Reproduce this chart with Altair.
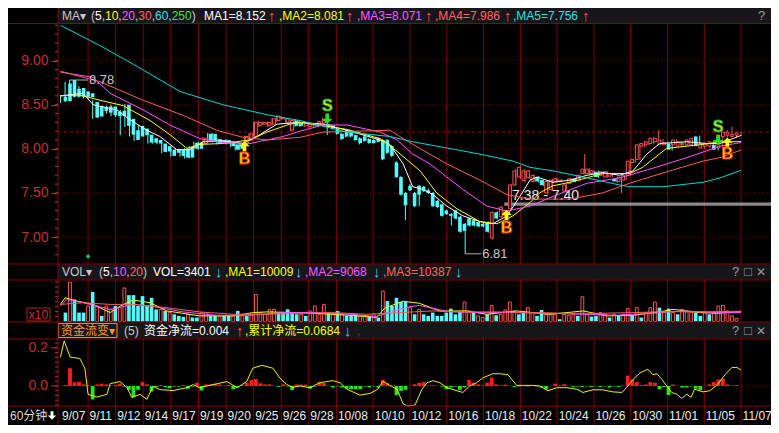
import altair as alt
import pandas as pd

# ---------------- values ----------------
opens = [8.59, 8.74, 8.78, 8.68, 8.69, 8.65, 8.63, 8.53, 8.48, 8.475,
         8.48, 8.48, 8.42, 8.43, 8.50, 8.34, 8.21, 8.26, 8.23, 8.16,
         8.12, 8.10, 8.06, 8.03, 7.99, 7.99, 7.99, 8.00, 8.02, 8.07,
         8.07, 8.06, 8.17, 8.17, 8.11, 8.10, 8.10, 8.08, 8.05, 8.06,
         8.06, 8.10, 8.14, 8.26, 8.28, 8.26, 8.28, 8.32, 8.34, 8.30,
         8.21, 8.32, 8.30, 8.26, 8.25, 8.26, 8.27, 8.29, 8.28, 8.265,
         8.23, 8.17, 8.21, 8.20, 8.155, 8.12, 8.14, 8.11, 8.10, 8.12,
         8.10, 8.10, 8.03, 7.845, 7.68, 7.50, 7.58, 7.50, 7.58, 7.57,
         7.53, 7.50, 7.41, 7.37, 7.30, 7.26, 7.30, 7.23, 7.15, 7.21,
         7.19, 7.17, 7.15, 7.17, 6.99, 7.28, 7.23, 7.24, 7.32, 7.59,
         7.68, 7.64, 7.67, 7.63, 7.68, 7.645, 7.50, 7.535, 7.63, 7.63,
         7.52, 7.61, 7.66, 7.645, 7.72, 7.72, 7.72, 7.74, 7.70, 7.68,
         7.69, 7.66, 7.63, 7.645, 7.70, 7.845, 7.88, 8.03, 8.045, 8.06,
         8.08, 8.045, 8.045, 8.06, 8.045, 8.03, 8.045, 8.045, 8.045, 8.14,
         8.01, 8.03, 8.03, 8.045, 8.01, 8.14, 8.155, 8.14, 8.155]
highs = [8.61, 8.76, 8.78, 8.70, 8.71, 8.66, 8.64, 8.55, 8.49, 8.49,
         8.49, 8.50, 8.43, 8.44, 8.51, 8.35, 8.22, 8.27, 8.24, 8.17,
         8.13, 8.11, 8.07, 8.04, 8.00, 8.00, 8.00, 8.01, 8.03, 8.08,
         8.08, 8.13, 8.18, 8.18, 8.12, 8.11, 8.11, 8.09, 8.06, 8.07,
         8.15, 8.18, 8.31, 8.32, 8.31, 8.31, 8.35, 8.38, 8.37, 8.35,
         8.33, 8.33, 8.31, 8.31, 8.29, 8.29, 8.32, 8.355, 8.29, 8.27,
         8.24, 8.18, 8.22, 8.21, 8.16, 8.13, 8.15, 8.12, 8.11, 8.13,
         8.11, 8.11, 8.04, 7.86, 7.69, 7.51, 7.60, 7.51, 7.59, 7.58,
         7.55, 7.51, 7.42, 7.38, 7.31, 7.27, 7.31, 7.24, 7.16, 7.22,
         7.20, 7.18, 7.16, 7.18, 7.29, 7.29, 7.35, 7.31, 7.60, 7.77,
         7.81, 7.77, 7.76, 7.71, 7.69, 7.65, 7.64, 7.66, 7.67, 7.66,
         7.60, 7.67, 7.67, 7.71, 7.94, 7.78, 7.76, 7.75, 7.75, 7.75,
         7.73, 7.67, 7.69, 7.71, 7.87, 7.89, 8.06, 8.07, 8.09, 8.13,
         8.21, 8.11, 8.08, 8.07, 8.11, 8.09, 8.07, 8.11, 8.14, 8.15,
         8.07, 8.07, 8.09, 8.06, 8.16, 8.21, 8.25, 8.18, 8.19]
lows = [8.52, 8.53, 8.57, 8.58, 8.58, 8.57, 8.57, 8.34, 8.35, 8.42,
        8.40, 8.37, 8.36, 8.155, 8.25, 8.14, 8.09, 8.12, 8.14, 8.06,
        8.06, 8.05, 7.95, 7.96, 7.91, 7.94, 7.91, 7.89, 7.89, 7.99,
        7.99, 8.05, 8.09, 8.07, 8.05, 8.06, 8.05, 8.02, 7.98, 7.99,
        8.05, 8.09, 8.13, 8.25, 8.27, 8.25, 8.27, 8.31, 8.33, 8.29,
        8.20, 8.25, 8.25, 8.25, 8.24, 8.25, 8.26, 8.28, 8.155, 8.22,
        8.16, 8.10, 8.13, 8.13, 8.09, 8.05, 8.08, 8.06, 8.06, 8.07,
        7.87, 7.94, 7.91, 7.67, 7.47, 7.19, 7.52, 7.34, 7.35, 7.51,
        7.49, 7.34, 7.33, 7.23, 7.25, 7.13, 7.20, 7.05, 6.81, 7.12,
        7.12, 7.11, 7.11, 7.05, 6.97, 7.20, 7.22, 7.22, 7.30, 7.58,
        7.66, 7.62, 7.66, 7.62, 7.62, 7.58, 7.48, 7.52, 7.62, 7.62,
        7.50, 7.60, 7.62, 7.63, 7.71, 7.71, 7.71, 7.67, 7.69, 7.67,
        7.68, 7.62, 7.50, 7.64, 7.69, 7.84, 7.87, 8.02, 8.04, 8.05,
        8.07, 8.04, 8.04, 7.98, 8.04, 8.02, 8.04, 8.04, 8.04, 8.02,
        8.00, 8.02, 8.02, 7.98, 8.00, 8.13, 8.15, 8.13, 8.15]
closes = [8.54, 8.54, 8.59, 8.59, 8.59, 8.59, 8.585, 8.355, 8.366, 8.43,
          8.41, 8.38, 8.37, 8.37, 8.26, 8.16, 8.10, 8.14, 8.155, 8.07,
          8.07, 8.06, 7.965, 7.97, 7.92, 7.955, 7.92, 7.90, 7.90, 8.00,
          8.00, 8.12, 8.10, 8.08, 8.06, 8.07, 8.06, 8.03, 7.99, 8.00,
          8.14, 8.17, 8.30, 8.30, 8.30, 8.30, 8.34, 8.37, 8.355, 8.34,
          8.32, 8.26, 8.26, 8.30, 8.28, 8.28, 8.31, 8.32, 8.25, 8.23,
          8.17, 8.11, 8.14, 8.14, 8.10, 8.065, 8.09, 8.065, 8.065, 8.08,
          7.88, 7.955, 7.92, 7.68, 7.48, 7.36, 7.53, 7.35, 7.48, 7.52,
          7.50, 7.35, 7.34, 7.24, 7.26, 7.24, 7.21, 7.06, 7.07, 7.13,
          7.13, 7.12, 7.12, 7.06, 7.28, 7.21, 7.34, 7.30, 7.59, 7.75,
          7.79, 7.75, 7.75, 7.70, 7.63, 7.59, 7.63, 7.645, 7.66, 7.645,
          7.59, 7.66, 7.63, 7.70, 7.77, 7.77, 7.75, 7.68, 7.74, 7.74,
          7.72, 7.63, 7.68, 7.70, 7.86, 7.88, 8.045, 8.06, 8.08, 8.12,
          8.12, 8.10, 8.07, 7.99, 8.10, 8.08, 8.06, 8.10, 8.12, 8.03,
          8.06, 8.06, 8.08, 7.99, 8.155, 8.19, 8.19, 8.16, 8.18]
volume_k = [9.0, 39.7, 22.3, 9.0, 9.0, 15.7, 30.0, 15.7, 5.7, 15.7,
            12.3, 15.7, 14.0, 34.0, 26.7, 26.7, 15.7, 25.7, 15.7, 24.0,
            12.3, 12.3, 10.7, 9.0, 7.3, 5.7, 4.7, 7.3, 4.0, 4.0,
            9.0, 9.0, 5.7, 5.7, 5.7, 5.7, 5.7, 5.7, 10.7, 5.7,
            5.7, 7.3, 27.3, 9.0, 7.3, 12.3, 12.3, 9.0, 9.0, 12.3,
            9.0, 7.3, 7.3, 5.7, 10.7, 15.7, 7.3, 17.3, 9.0, 7.3,
            10.7, 7.3, 5.7, 5.7, 7.3, 5.7, 6.3, 5.7, 7.3, 4.0,
            30.7, 20.7, 15.7, 24.0, 19.7, 19.7, 14.0, 7.3, 12.3, 7.3,
            5.7, 9.0, 5.7, 5.7, 9.0, 13.0, 7.3, 9.7, 19.7, 10.7,
            9.0, 5.7, 4.0, 7.3, 16.3, 6.3, 7.3, 11.7, 19.7, 10.7,
            7.3, 9.0, 14.0, 9.0, 5.7, 11.7, 7.3, 8.3, 7.3, 2.3,
            7.3, 6.3, 7.3, 5.7, 25.0, 7.3, 5.0, 5.7, 9.0, 7.3,
            4.0, 7.3, 5.7, 7.3, 13.0, 5.7, 14.0, 4.0, 9.0, 14.0,
            19.7, 14.0, 9.0, 13.0, 9.0, 7.3, 12.3, 9.7, 9.0, 9.0,
            5.7, 9.7, 7.3, 9.0, 15.7, 16.3, 10.7, 5.7, 3.0]
# colour of each volume bar as seen in the picture: 1 = red (hollow), 0 = cyan
volume_red = [0, 1, 0, 0, 0, 1, 0, 1, 0, 1,
              1, 0, 1, 1, 0, 0, 0, 0, 0, 0,
              0, 1, 0, 1, 0, 0, 0, 1, 0, 0,
              1, 1, 0, 0, 1, 0, 0, 1, 0, 1,
              0, 1, 1, 1, 1, 1, 1, 0, 0, 0,
              0, 0, 1, 0, 1, 1, 1, 1, 0, 1,
              0, 1, 0, 0, 0, 1, 1, 0, 1, 0,
              1, 0, 0, 0, 0, 0, 1, 0, 1, 0,
              0, 0, 0, 0, 0, 0, 0, 0, 1, 1,
              0, 1, 1, 0, 1, 0, 1, 1, 1, 1,
              0, 0, 1, 1, 0, 0, 1, 1, 1, 0,
              1, 1, 1, 0, 1, 1, 0, 0, 1, 1,
              0, 1, 0, 1, 1, 0, 1, 0, 1, 1,
              1, 0, 1, 0, 1, 0, 1, 1, 1, 0,
              0, 1, 0, 1, 1, 1, 1, 1, 1]
fund_flow = [0.005, 0.093, 0.019, 0.022, 0.008, 0.003, -0.071, 0.008, 0.012, 0.008,
             0.002, 0.005, 0.012, -0.003, -0.020, -0.059, -0.020, 0.020, 0.008, -0.029,
             -0.005, 0.005, -0.007, -0.012, -0.003, -0.003, 0.005, -0.015, -0.003, 0.017,
             -0.024, 0.008, 0.008, 0.012, 0.008, 0.002, 0.005, -0.017, -0.007, 0.005,
             0.017, 0.031, 0.036, 0.014, 0.008, 0.008, 0.002, -0.005, 0.008, -0.002,
             -0.022, 0.008, 0.007, 0.007, -0.014, -0.003, 0.020, 0.015, 0.002, -0.008,
             -0.002, -0.008, -0.014, -0.017, -0.017, -0.017, -0.003, -0.008, -0.002, -0.008,
             0.031, 0.014, 0.002, -0.048, -0.026, -0.020, 0.001, 0.009, 0.017, 0.020,
             0.002, 0.004, 0.001, -0.003, -0.017, -0.008, -0.003, -0.020, -0.008, 0.031,
             0.017, 0.008, 0.003, 0.017, 0.043, 0.008, 0.003, 0.007, 0.002, -0.005,
             -0.002, 0.001, -0.002, 0.003, -0.002, -0.008, -0.017, 0.001, 0.012, 0.004,
             0.009, 0.001, -0.005, -0.003, -0.005, -0.002, -0.005, -0.002, -0.005, -0.002,
             -0.008, -0.002, -0.005, 0.002, 0.054, 0.034, 0.020, 0.005, 0.008, 0.020,
             0.017, -0.017, -0.005, -0.048, 0.007, 0.001, -0.008, -0.008, -0.002, -0.014,
             -0.022, 0.001, 0.008, 0.020, 0.034, 0.038, 0.008, 0.002, 0.005]

date_labels = ["9/07", "9/11", "9/12", "9/14", "9/17", "9/19", "9/20", "9/25", "9/26", "9/28",
               "10/08", "10/10", "10/12", "10/16", "10/18", "10/22", "10/24", "10/26", "10/30",
               "11/01", "11/05", "11/07"]
date_pos = [0, 6, 12, 18, 24, 30, 36, 42, 48, 54, 60, 68, 76, 84, 92, 100, 108, 116, 124, 132, 140, 148]

# moving averages, (bar index, value) points
ma5_pts = [(0, 8.60), (4.9, 8.63), (7.1, 8.50), (12.3, 8.44), (15.1, 8.33), (18.8, 8.21), (21.6, 8.14),
           (25.3, 7.99), (28.1, 7.99), (31.0, 8.08), (35.3, 8.09), (39.7, 8.06), (42.7, 8.14), (47.1, 8.28),
           (52.1, 8.30), (57.1, 8.28), (62.3, 8.21), (69.5, 8.10), (71.6, 8.05), (74.5, 7.83), (76.6, 7.57),
           (78.8, 7.54), (81.0, 7.48), (84.0, 7.35), (87.5, 7.24), (91.2, 7.175), (94.0, 7.15), (97.1, 7.24),
           (99.9, 7.46), (102.1, 7.645), (103.6, 7.68), (107.1, 7.62), (110.8, 7.645), (114.5, 7.70),
           (117.9, 7.73), (121.6, 7.70), (124.5, 7.75), (127.5, 7.94), (130.3, 8.06), (136.2, 8.08),
           (140.5, 8.06), (143.4, 8.06), (148, 8.152)]
ma10_pts = [(0, 8.60), (4.2, 8.61), (8.6, 8.55), (13.6, 8.49), (19.5, 8.32), (23.8, 8.16), (27.5, 8.005),
            (30.3, 8.05), (35.3, 8.06), (41.2, 8.10), (44.9, 8.19), (49.9, 8.28), (52.1, 8.30), (62.3, 8.22),
            (69.5, 8.115), (73.2, 7.97), (78.2, 7.75), (81.8, 7.50), (86.2, 7.32), (91.2, 7.175), (94.9, 7.15),
            (98.4, 7.24), (102.1, 7.39), (104.2, 7.50), (107.0, 7.58), (110.8, 7.62), (117.9, 7.72),
            (123.8, 7.72), (126.6, 7.79), (131.8, 8.005), (139.7, 8.05), (143.4, 8.08), (148, 8.081)]
ma20_pts = [(0, 8.87), (7.1, 8.81), (10.8, 8.63), (18.0, 8.44), (23.8, 8.27), (30.3, 8.115), (35.3, 8.07),
            (41.2, 8.06), (48.4, 8.14), (52.1, 8.20), (57.1, 8.27), (62.3, 8.27), (69.5, 8.19), (73.2, 8.10),
            (76.6, 7.94), (80.3, 7.83), (87.5, 7.54), (92.7, 7.35), (97.1, 7.295), (102.1, 7.35),
            (107.1, 7.46), (114.5, 7.61), (121.6, 7.67), (128.8, 7.78), (136.2, 7.90), (143.4, 8.03),
            (148, 8.071)]
ma30_pts = [(0, 8.88), (8.6, 8.76), (18.0, 8.55), (26.6, 8.38), (34.0, 8.21), (39.7, 8.13), (44.9, 8.10),
            (52.1, 8.13), (57.1, 8.19), (71.6, 8.21), (76.6, 8.05), (84.0, 7.83), (91.2, 7.645),
            (97.1, 7.48), (102.1, 7.43), (110.8, 7.43), (117.9, 7.50), (123.8, 7.61), (132.5, 7.75),
            (139.7, 7.86), (143.4, 7.90), (148, 7.986)]
ma60_pts = [(0, 9.40), (8.6, 9.17), (15.8, 8.96), (26.0, 8.65), (35.3, 8.50), (45.5, 8.38), (52.1, 8.32),
            (62.3, 8.19), (71.6, 8.14), (76.6, 8.08), (84.0, 8.01), (91.2, 7.94), (98.4, 7.86),
            (102.1, 7.79), (107.1, 7.75), (114.5, 7.67), (121.6, 7.59), (123.8, 7.57), (131.0, 7.57),
            (139.7, 7.62), (143.4, 7.67), (148, 7.756)]

vma5_pts = [(0, 17.3), (1, 24.0), (3.5, 20.7), (7.1, 17.3), (10.8, 9.0), (13, 15.7), (15.8, 21.7),
            (19.5, 19.0), (23.1, 10.7), (30.3, 5.7), (37.6, 5.7), (41.9, 9.0), (44.8, 9.7), (52.1, 9.0),
            (59.3, 7.3), (66.6, 5.0), (68.7, 4.0), (70.5, 13.5), (74.5, 20.5), (78, 18.5), (82.5, 10.5),
            (88.3, 10.7), (92.7, 7.3), (99.2, 10.7), (106.4, 7.3), (113.7, 10.7), (118.7, 5.7),
            (124.5, 6.3), (130.3, 9.7), (133.2, 12.3), (139, 9.0), (142.7, 8.3), (148, 10.0)]
vma10_pts = [(0, 15.7), (1.4, 22.3), (4.9, 19.0), (10.8, 12.3), (15.8, 17.3), (19.5, 15.7), (26.7, 9.7),
             (34, 6.3), (41.2, 6.3), (48.4, 9.0), (55.7, 9.0), (62.9, 7.3), (68.7, 5.0), (72, 10.0),
             (76, 15.0), (78, 16.3), (84.7, 9.7), (91.8, 9.0), (99.2, 9.0), (106.4, 8.3), (113.7, 7.3),
             (120.9, 6.3), (128.2, 8.3), (135.4, 10.7), (142.7, 9.0), (148, 9.07)]
vma20_pts = [(0, 17.3), (4.9, 19.0), (10.8, 17.3), (15.8, 17.3), (23.1, 14.0), (30.3, 9.7), (37.6, 7.3),
             (44.8, 7.3), (52.1, 8.3), (59.3, 9.0), (66.6, 7.3), (73.8, 9.0), (81, 10.7), (88.3, 9.7),
             (95.5, 9.7), (102.8, 9.0), (110, 8.3), (117.3, 8.3), (124.5, 9.0), (131.8, 10.0),
             (139, 9.7), (148, 10.39)]

fund_line_pts = [(0, 0.151), (0.8, 0.236), (2.1, 0.151), (4.2, 0.144), (5.3, 0.093), (6.0, -0.044),
                 (7.9, -0.058), (10.1, -0.044), (10.8, 0.012), (12.9, 0.023), (14.5, -0.009), (15.5, -0.060),
                 (17.3, -0.044), (18.8, -0.070), (20.1, -0.002), (21.6, -0.019), (24.5, -0.024),
                 (27.5, -0.009), (28.8, 0.007), (30.3, -0.009), (33.2, 0.007), (36.2, 0.023), (38.4, -0.009),
                 (40.5, 0.023), (41.8, 0.093), (43.8, 0.108), (46.2, 0.093), (47.7, 0.042), (49.2, 0.007),
                 (50.5, -0.007), (52.1, 0.0), (54.2, -0.009), (56.4, 0.017), (59.2, 0.028), (60.8, 0.017),
                 (62.3, -0.017), (65.1, -0.048), (67.3, -0.039), (69.0, -0.017), (70.1, 0.025), (71.6, 0.003),
                 (73.2, -0.017), (74.5, -0.094), (75.5, -0.105), (77.1, -0.100), (78.6, -0.017), (79.7, 0.017),
                 (81.0, 0.028), (82.5, 0.017), (84.0, -0.009), (86.2, -0.025), (87.5, -0.034), (89.0, 0.0),
                 (90.5, 0.017), (91.8, 0.042), (94.0, 0.064), (95.5, 0.064), (97.3, 0.059), (99.2, 0.003),
                 (102.7, 0.003), (104.2, 0.0), (106.0, -0.025), (107.9, -0.009), (110.1, -0.009),
                 (112.3, -0.017), (113.6, -0.034), (115.8, -0.020), (117.9, -0.020), (120.1, -0.031),
                 (122.1, -0.034), (123.4, 0.0), (124.5, 0.034), (126.0, 0.068), (127.7, 0.088), (128.8, 0.059),
                 (129.7, 0.064), (130.8, 0.034), (131.8, 0.0), (132.9, -0.034), (134.0, -0.043),
                 (135.1, -0.065), (136.2, -0.043), (137.1, -0.060), (137.9, -0.017), (139.7, -0.031),
                 (141.2, -0.025), (142.9, 0.008), (144.5, 0.059), (146.0, 0.097), (147.1, 0.097), (148.0, 0.084)]

sig_idx = [40, 58, 97, 143, 145]
sig_kind = ["B", "S", "B", "S", "B"]
sig_arrow = [8.03, 8.34, 7.25, 8.10, 8.07]
sig_text = [7.89, 8.49, 7.10, 8.25, 7.94]

hi_note = {"from": 2, "to": 6, "text_at": 6.2, "p": 8.78, "t": "8.78"}
lo_note = {"from": 88, "to": 91.5, "text_at": 91.7, "p": 6.81, "t": "6.81"}
band = {"start": 96.5, "end": 154.5, "lo": 7.355, "hi": 7.39, "t": "7.38 - 7.40", "t_i": 98.2, "t_p": 7.47}
last_price_line = 8.19
diamond = {"i": 6, "p": 6.78}
price_grid = [7.0, 7.5, 8.0, 8.5, 9.0]

# ---------------- layout / style ----------------
W, H = 713, 417
X_DOMAIN = [-0.54, 154.5]
PRICE_DOMAIN, PRICE_RANGE = [6.694, 9.415], [256, 16]
VOL_DOMAIN, VOL_RANGE = [0, 41.5], [313.5, 272.5]
FUND_DOMAIN, FUND_RANGE = [-0.105, 0.246], [398, 331]
FONT = "Liberation Sans, Noto Sans CJK SC, DejaVu Sans"
RED, CYAN = "#ff5454", "#54fcfc"
GRID = "#7a0000"
SEP = "#8f0000"
AXRED = "#c03030"


def xq(field="i"):
    return alt.X(f"{field}:Q", scale=alt.Scale(domain=X_DOMAIN, nice=False, zero=False), axis=None)


def yscale(dom, rng):
    return alt.Scale(domain=dom, range=rng, nice=False, zero=False)


def yp(field, axis=None):
    return alt.Y(f"{field}:Q", scale=yscale(PRICE_DOMAIN, PRICE_RANGE), axis=axis)


def yv(field):
    return alt.Y(f"{field}:Q", scale=yscale(VOL_DOMAIN, VOL_RANGE), axis=None)


def yf(field):
    return alt.Y(f"{field}:Q", scale=yscale(FUND_DOMAIN, FUND_RANGE), axis=None)


def px(field):
    return alt.X(f"{field}:Q", scale=None, axis=None)


def py(field):
    return alt.Y(f"{field}:Q", scale=None, axis=None)


N = len(closes)
bars = pd.DataFrame({"i": list(range(N)), "o": opens, "h": highs, "l": lows, "c": closes,
                     "v": volume_k, "vr": volume_red, "f": fund_flow})
bars["dir"] = ["up" if c >= o else "down" for o, c in zip(opens, closes)]
bars["z"] = 0.0
dir_scale = alt.Scale(domain=["up", "down"], range=[RED, CYAN])


def long_df(groups):
    rows = []
    for name, pts in groups:
        for i, v in pts:
            rows.append({"i": i, "v": v, "s": name})
    return pd.DataFrame(rows)


ma_df = long_df([("MA1", ma5_pts), ("MA2", ma10_pts), ("MA3", ma20_pts), ("MA4", ma30_pts), ("MA5", ma60_pts)])
vma_df = long_df([("V1", vma5_pts), ("V2", vma10_pts), ("V3", vma20_pts)])
fl_df = long_df([("F", fund_line_pts)])

layers = []

# vertical grid lines
grid_df = pd.DataFrame({"i": date_pos[1:]})
layers.append(alt.Chart(grid_df).mark_rule(color=GRID, strokeWidth=1).encode(
    x=xq(), y=alt.value(16), y2=alt.value(H)))
# dotted price grid
layers.append(alt.Chart(pd.DataFrame({"p": price_grid})).mark_rule(
    color="#900000", strokeDash=[1, 3], strokeWidth=1).encode(
    y=yp("p"), x=alt.value(0), x2=alt.value(W)))
# fund zero dotted line
layers.append(alt.Chart(pd.DataFrame({"p": [0.0]})).mark_rule(
    color="#a00000", strokeDash=[1, 3], strokeWidth=1).encode(
    y=yf("p"), x=alt.value(0), x2=alt.value(W)))
# last price dashed line
layers.append(alt.Chart(pd.DataFrame({"p": [last_price_line]})).mark_rule(
    color="#a00000", strokeDash=[3, 3], strokeWidth=1).encode(
    y=yp("p"), x=alt.value(0), x2=alt.value(W)))
# grey price band
band_df = pd.DataFrame([band])
layers.append(alt.Chart(band_df).mark_rect(color="#8a8a8a").encode(
    x=xq("start"), x2="end:Q", y=yp("lo"), y2="hi:Q"))
layers.append(alt.Chart(band_df).mark_text(align="left", baseline="middle", fontSize=14, font=FONT,
                                           color="#e8e8e8").encode(
    x=xq("t_i"), y=yp("t_p"), text="t:N"))

# candles
layers.append(alt.Chart(bars).mark_rule(strokeWidth=1).encode(
    x=xq(),
    y=yp("l", axis=alt.Axis(orient="left", values=price_grid, format=".2f", labelColor=AXRED,
                            labelFontSize=14, labelFont=FONT, tickColor=AXRED, tickSize=7,
                            domain=False, grid=False, title=None, labelPadding=3)),
    y2="h:Q",
    color=alt.Color("dir:N", scale=dir_scale, legend=None)))
layers.append(alt.Chart(bars).transform_filter("datum.dir == 'up'").mark_bar(
    width=2.8, fill="#000000", stroke=RED, strokeWidth=1).encode(x=xq(), y=yp("o"), y2="c:Q"))
layers.append(alt.Chart(bars).transform_filter("datum.dir == 'down'").mark_bar(
    width=3.6, color=CYAN).encode(x=xq(), y=yp("o"), y2="c:Q"))

# price moving averages
layers.append(alt.Chart(ma_df).mark_line(strokeWidth=1).encode(
    x=xq(), y=yp("v"),
    color=alt.Color("s:N", scale=alt.Scale(domain=["MA1", "MA2", "MA3", "MA4", "MA5"],
                                           range=["#ffffff", "#ffff00", "#ff50ff", "#f26060", "#00d8d8"]),
                    legend=None)))

# high / low notes
notes = pd.DataFrame([hi_note, lo_note])
layers.append(alt.Chart(notes).mark_rule(color="#b0b0b0", strokeWidth=1).encode(
    x=xq("from"), x2="to:Q", y=yp("p")))
layers.append(alt.Chart(notes).mark_text(align="left", baseline="middle", fontSize=13, font=FONT,
                                         color="#c8c8c8").encode(x=xq("text_at"), y=yp("p"), text="t:N"))

# signals
UP = "M0,-1L1,0L0.35,0L0.35,1L-0.35,1L-0.35,0L-1,0Z"
DOWN = "M0,1L1,0L0.35,0L0.35,-1L-0.35,-1L-0.35,0L-1,0Z"
sig_df = pd.DataFrame({"i": sig_idx, "k": sig_kind, "pa": sig_arrow, "pt": sig_text})
layers.append(alt.Chart(sig_df).transform_filter("datum.k == 'B'").mark_point(
    shape=UP, filled=True, size=110, color="#ffff00", opacity=1).encode(x=xq(), y=yp("pa")))
layers.append(alt.Chart(sig_df).transform_filter("datum.k == 'S'").mark_point(
    shape=DOWN, filled=True, size=110, color="#22e022", opacity=1).encode(x=xq(), y=yp("pa")))
layers.append(alt.Chart(sig_df).transform_filter("datum.k == 'B'").mark_text(
    fontSize=16, fontWeight="bold", font=FONT, fill="#ffff00", stroke="#e02020", strokeWidth=0.9,
    baseline="middle").encode(x=xq(), y=yp("pt"), text="k:N"))
layers.append(alt.Chart(sig_df).transform_filter("datum.k == 'S'").mark_text(
    fontSize=16, fontWeight="bold", font=FONT, fill="#e6f040", stroke="#20a020", strokeWidth=0.9,
    baseline="middle").encode(x=xq(), y=yp("pt"), text="k:N"))
layers.append(alt.Chart(pd.DataFrame([diamond])).mark_point(
    shape="diamond", filled=True, size=22, color="#20c060", opacity=1).encode(x=xq(), y=yp("p")))

# volume
layers.append(alt.Chart(bars).transform_filter("datum.vr == 1").mark_bar(
    width=2.8, fill="#000000", stroke=RED, strokeWidth=1).encode(x=xq(), y=yv("v"), y2="z:Q"))
layers.append(alt.Chart(bars).transform_filter("datum.vr == 0").mark_bar(
    width=3.6, color=CYAN).encode(x=xq(), y=yv("v"), y2="z:Q"))
layers.append(alt.Chart(vma_df).mark_line(strokeWidth=1).encode(
    x=xq(), y=yv("v"),
    color=alt.Color("s:N", scale=alt.Scale(domain=["V1", "V2", "V3"],
                                           range=["#ffff00", "#ff50ff", "#f26060"]), legend=None)))

# fund flow
layers.append(alt.Chart(bars).transform_filter("datum.f >= 0").mark_bar(
    width=3.8, color="#ff1e1e").encode(x=xq(), y=yf("f"), y2="z:Q"))
layers.append(alt.Chart(bars).transform_filter("datum.f < 0").mark_bar(
    width=3.8, color="#1ee61e").encode(x=xq(), y=yf("f"), y2="z:Q"))
layers.append(alt.Chart(fl_df).mark_line(strokeWidth=1, color="#f0f000").encode(x=xq(), y=yf("v")))

# header bands
hdr_bands = pd.DataFrame({"y1": [0, 256.5, 314.5], "y2": [15.5, 271.5, 330.5]})
layers.append(alt.Chart(hdr_bands).mark_rect(color="#17171b").encode(
    x=alt.value(0), x2=alt.value(W), y=py("y1"), y2="y2:Q"))

LG, WH, YE, MG, SA, CY, GR, AR, AC, QG = ("#c8c8c8", "#ffffff", "#ffff00", "#ff55ff", "#ff6464",
                                          "#30e0e0", "#40e040", "#ff5050", "#30d0f0", "#9a9a9a")
y1, y2, y3 = 8, 264, 322.5
header_items = [
    (4, y1, "MA\u25BE", LG, 12), (33, y1, "(", LG, 12), (37, y1, "5", WH, 12), (43.7, y1, ",", LG, 12),
    (47, y1, "10", YE, 12), (60.3, y1, ",", LG, 12), (63.7, y1, "20", MG, 12), (77, y1, ",", LG, 12),
    (80.3, y1, "30", SA, 12), (93.7, y1, ",", LG, 12), (97, y1, "60", CY, 12), (110.3, y1, ",", LG, 12),
    (113.7, y1, "250", GR, 12), (133.7, y1, ")", LG, 12),
    (146, y1, "MA1=8.152", WH, 12), (210, y1, "\u2191", AR, 15), (221, y1, ",MA2=8.081", YE, 12),
    (288, y1, "\u2191", AR, 15), (299, y1, ",MA3=8.071", MG, 12), (367, y1, "\u2191", AR, 15),
    (377, y1, ",MA4=7.986", SA, 12), (446, y1, "\u2191", AR, 15), (455, y1, ",MA5=7.756", CY, 12),
    (524, y1, "\u2191", AR, 15), (700, y1, "?", QG, 13),
    (4, y2, "VOL\u25BE", LG, 12), (41, y2, "(", LG, 12), (45, y2, "5", WH, 12), (51.7, y2, ",", LG, 12),
    (55, y2, "10", MG, 12), (68.3, y2, ",", LG, 12), (71.7, y2, "20", SA, 12), (85, y2, ")", LG, 12),
    (95, y2, "VOL=3401", WH, 12), (157, y2, "\u2193", AC, 15), (167, y2, ",MA1=10009", YE, 12),
    (237, y2, "\u2193", AC, 15), (247, y2, ",MA2=9068", MG, 12), (315, y2, "\u2193", AC, 15),
    (325, y2, ",MA3=10387", SA, 12), (397, y2, "\u2193", AC, 15),
    (674, y2, "?", QG, 13), (686, y2, "\u25A1", QG, 13), (698, y2, "\u2715", QG, 12),
    (3, y3, "资金流变\u25BE", "#ff9a30", 12), (66, y3, "(5)", LG, 12), (86, y3, "资金净流=0.004", WH, 12),
    (178, y3, "\u2191", AR, 15), (187, y3, ",累计净流=0.0684", YE, 12), (286, y3, "\u2193", AC, 15),
    (299, y3, ",", "#505050", 12),
    (674, y3, "?", QG, 13), (686, y3, "\u25A1", QG, 13), (698, y3, "\u2715", QG, 12),
]
hdr_df = pd.DataFrame(header_items, columns=["x", "y", "t", "c", "s"])
layers.append(alt.Chart(hdr_df).mark_text(align="left", baseline="middle", font=FONT).encode(
    x=px("x"), y=py("y"), text="t:N", color=alt.Color("c:N", scale=None),
    size=alt.Size("s:Q", scale=None, legend=None)))
layers.append(alt.Chart(pd.DataFrame({"x1": [0.5], "x2": [59], "y1": [315.5], "y2": [329.5]})).mark_rect(
    fill="#17171b", fillOpacity=0, stroke="#ff8c1a", strokeWidth=1).encode(
    x=px("x1"), x2="x2:Q", y=py("y1"), y2="y2:Q"))

# separators and gutter border
sep_df = pd.DataFrame({"y": [15.5, 256, 272, 314, 331, 398]})
layers.append(alt.Chart(sep_df).mark_rule(color=SEP, strokeWidth=1).encode(
    y=py("y"), x=alt.value(-50), x2=alt.value(W)))
layers.append(alt.Chart(pd.DataFrame({"a": [0]})).mark_rule(color=SEP, strokeWidth=1).encode(
    x=alt.value(0), y=alt.value(0), y2=alt.value(H)))

# gutter ticks
price_minor = [round(6.8 + 0.1 * k, 1) for k in range(27)]
layers.append(alt.Chart(pd.DataFrame({"p": price_minor})).mark_rule(color=AXRED).encode(
    y=yp("p"), x=alt.value(-3), x2=alt.value(0)))
vol_ticks = [5, 10, 15, 20, 25, 30, 35, 40]
layers.append(alt.Chart(pd.DataFrame({"p": vol_ticks})).mark_rule(color=AXRED).encode(
    y=yv("p"), x=alt.value(-3), x2=alt.value(0)))
fund_ticks = [round(-0.1 + 0.025 * k, 3) for k in range(14)]
layers.append(alt.Chart(pd.DataFrame({"p": fund_ticks})).mark_rule(color=AXRED).encode(
    y=yf("p"), x=alt.value(-3), x2=alt.value(0)))
layers.append(alt.Chart(pd.DataFrame({"p": [0.0, 0.2], "t": ["0.0", "0.2"]})).mark_rule(color=AXRED).encode(
    y=yf("p"), x=alt.value(-7), x2=alt.value(0)))
layers.append(alt.Chart(pd.DataFrame({"p": [0.0, 0.2], "t": ["0.0", "0.2"]})).mark_text(
    align="right", baseline="middle", fontSize=14, font=FONT, color=AXRED).encode(
    y=yf("p"), x=alt.value(-10), text="t:N"))
# x10 box
layers.append(alt.Chart(pd.DataFrame({"x1": [-31], "x2": [-8], "y1": [300], "y2": [313]})).mark_rect(
    fillOpacity=0, stroke="#b02020", strokeWidth=1).encode(x=px("x1"), x2="x2:Q", y=py("y1"), y2="y2:Q"))
layers.append(alt.Chart(pd.DataFrame({"t": ["x10"]})).mark_text(
    align="center", baseline="middle", fontSize=12, font=FONT, color="#c83232").encode(
    x=alt.value(-19.5), y=alt.value(306.5), text="t:N"))
# period label
layers.append(alt.Chart(pd.DataFrame({"t": ["60分钟"]})).mark_text(
    align="left", baseline="middle", fontSize=12, font=FONT, color="#d8d8d8").encode(
    x=alt.value(-48), y=alt.value(407.5), text="t:N"))
layers.append(alt.Chart(pd.DataFrame({"a": [0]})).mark_point(
    shape=DOWN, filled=True, size=70, color="#ffffff", opacity=1).encode(
    x=alt.value(-6), y=alt.value(407.5)))

# date labels
dl_df = pd.DataFrame({"i": date_pos, "t": date_labels})
layers.append(alt.Chart(dl_df).mark_text(align="left", baseline="middle", fontSize=12, font=FONT,
                                         color="#ececec", dx=1.5).encode(
    x=xq(), y=alt.value(407.5), text="t:N"))

chart = alt.layer(*layers).resolve_scale(
    x="independent", y="independent", color="independent", size="independent"
).properties(
    width=W, height=H, background="#000000",
    autosize=alt.AutoSizeParams(type="none"),
    padding={"left": 50, "top": 0, "right": 0, "bottom": 0},
).configure_view(stroke=None)

chart.save("out.html", embed_options={"renderer": "svg", "actions": False})
